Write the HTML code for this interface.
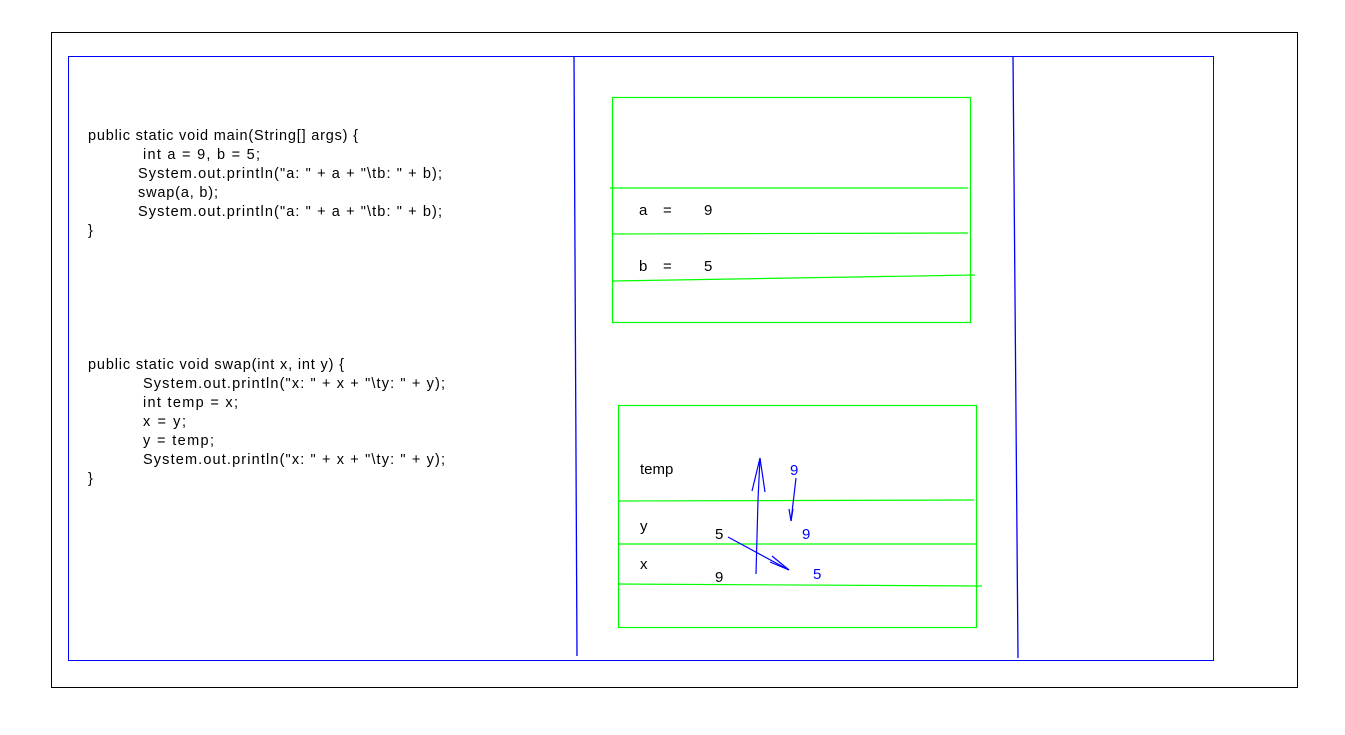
<!DOCTYPE html>
<html><head><style>html,body{margin:0;padding:0;background:#fff}svg{display:block}</style></head>
<body>
<svg width="1345" height="735" viewBox="0 0 1345 735" xmlns="http://www.w3.org/2000/svg" font-family="Liberation Sans, sans-serif" font-size="14.5">
<rect width="1345" height="735" fill="#fff"/>
<rect x="51.5" y="32.5" width="1246" height="655" fill="none" stroke="#000" stroke-width="1"/>
<rect x="68.5" y="56.5" width="1145" height="604" fill="none" stroke="#00f" stroke-width="1"/>
<path d="M574 56 L577 656" stroke="#00f" stroke-width="1.3" fill="none"/>
<path d="M1013 56 L1018 658" stroke="#00f" stroke-width="1.3" fill="none"/>
<g fill="#000">
<text x="88" y="140" textLength="270" lengthAdjust="spacing">public static void main(String[] args) {</text>
<text x="143" y="159" textLength="117" lengthAdjust="spacing">int a = 9, b = 5;</text>
<text x="138" y="178" textLength="304" lengthAdjust="spacing">System.out.println("a: " + a + "\tb: " + b);</text>
<text x="138" y="197" textLength="80" lengthAdjust="spacing">swap(a, b);</text>
<text x="138" y="216" textLength="304" lengthAdjust="spacing">System.out.println("a: " + a + "\tb: " + b);</text>
<text x="88" y="235">}</text>
<text x="88" y="369" textLength="256" lengthAdjust="spacing">public static void swap(int x, int y) {</text>
<text x="143" y="388" textLength="302" lengthAdjust="spacing">System.out.println("x: " + x + "\ty: " + y);</text>
<text x="143" y="407" textLength="95" lengthAdjust="spacing">int temp = x;</text>
<text x="143" y="426" textLength="43" lengthAdjust="spacing">x = y;</text>
<text x="143" y="445" textLength="71" lengthAdjust="spacing">y = temp;</text>
<text x="143" y="464" textLength="302" lengthAdjust="spacing">System.out.println("x: " + x + "\ty: " + y);</text>
<text x="88" y="483">}</text>
</g>
<g stroke="#0f0" stroke-width="1.2" fill="none">
<rect x="612.5" y="97.5" width="358" height="225"/>
<path d="M610 188 L968 188"/>
<path d="M612 234 L968 233"/>
<path d="M612 281 L975 275"/>
<rect x="618.5" y="405.5" width="358" height="222"/>
<path d="M618 501 L974 500"/>
<path d="M618 544 L976 544"/>
<path d="M618 584 L982 586"/>
</g>
<g fill="#000" font-size="15">
<text x="639" y="215">a</text><text x="663" y="215">=</text><text x="704" y="215">9</text>
<text x="639" y="271">b</text><text x="663" y="271">=</text><text x="704" y="271">5</text>
<text x="640" y="474">temp</text>
<text x="640" y="531">y</text>
<text x="640" y="569">x</text>
<text x="715" y="539">5</text>
<text x="715" y="582">9</text>
</g>
<g fill="#00f" font-size="15">
<text x="790" y="475">9</text>
<text x="802" y="539">9</text>
<text x="813" y="579">5</text>
</g>
<g stroke="#00f" stroke-width="1.2" fill="none">
<path d="M756 574 L758 500 L760 458"/>
<path d="M752 491 L760 458 L765 492"/>
<path d="M796 478 L791 521"/>
<path d="M789 509 L791 521 L793 509"/>
<path d="M728 537 L789 570"/>
<path d="M772 556 L789 570 L770 562"/>
</g>
</svg>
</body></html>
